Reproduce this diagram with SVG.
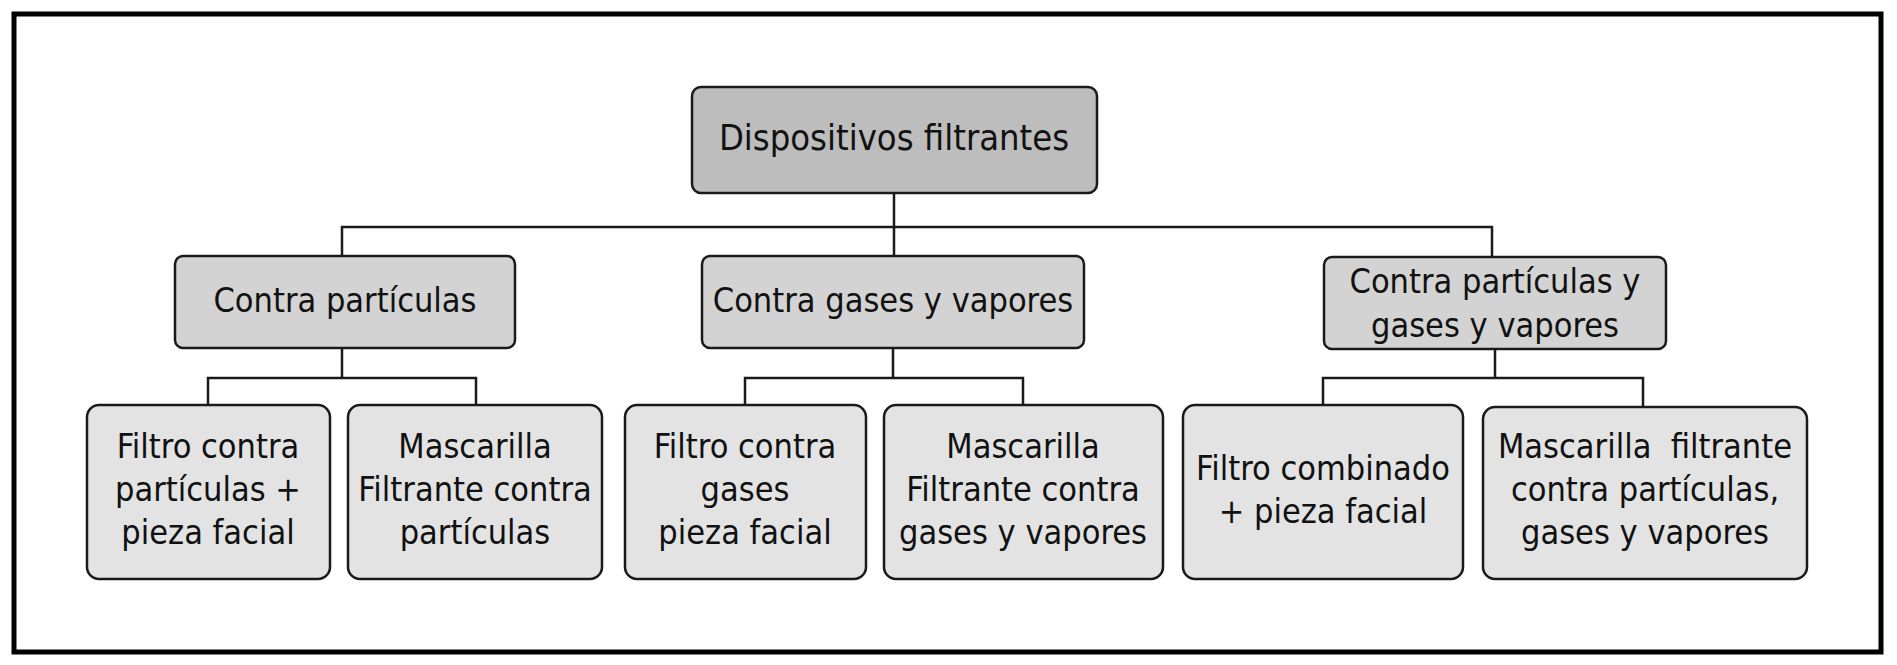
<svg xmlns="http://www.w3.org/2000/svg" width="1897" height="665" viewBox="0 0 1897 665">
<style>
.box{stroke:#1a1a1a;stroke-width:2.5}
.l0{fill:#bdbdbd}
.l1{fill:#d3d3d3}
.l2{fill:#e3e3e3}
.t{font-family:"DejaVu Sans Condensed","Liberation Sans",sans-serif;font-size:34px;fill:#111;text-anchor:middle}
.t0{font-size:36px}
.c{fill:none;stroke:#1a1a1a;stroke-width:2.5}
</style>
<rect x="0" y="0" width="1897" height="665" fill="#ffffff"/>
<rect id="frame" x="14" y="14" width="1867" height="638" fill="none" stroke="#000" stroke-width="5"/>
<g id="connectors">
<path class="c" d="M894 193 V255 M342 256 V227 H1492 V257"/>
<path class="c" d="M342 348 V378 M208 405 V378 H476 V405"/>
<path class="c" d="M893 348 V378 M745 405 V378 H1023 V405"/>
<path class="c" d="M1495 349 V378 M1323 405 V378 H1643 V407"/>
</g>
<g id="n-root">
<rect class="box l0" x="692" y="87" width="405" height="106" rx="9"/>
<text class="t t0" x="894" y="150">Dispositivos filtrantes</text>
</g>
<g id="n-particulas">
<rect class="box l1" x="175" y="256" width="340" height="92" rx="8"/>
<text class="t" x="345" y="312">Contra partículas</text>
</g>
<g id="n-gases">
<rect class="box l1" x="702" y="256" width="382" height="92" rx="8"/>
<text class="t" x="893" y="312">Contra gases y vapores</text>
</g>
<g id="n-combinado">
<rect class="box l1" x="1324" y="257" width="342" height="92" rx="8"/>
<text class="t" x="1495" y="293">Contra partículas y</text>
<text class="t" x="1495" y="337">gases y vapores</text>
</g>
<g id="n-b1">
<rect class="box l2" x="87" y="405" width="243" height="174" rx="12"/>
<text class="t" x="208" y="458">Filtro contra</text>
<text class="t" x="208" y="501">partículas +</text>
<text class="t" x="208" y="544">pieza facial</text>
</g>
<g id="n-b2">
<rect class="box l2" x="348" y="405" width="254" height="174" rx="12"/>
<text class="t" x="475" y="458">Mascarilla</text>
<text class="t" x="475" y="501">Filtrante contra</text>
<text class="t" x="475" y="544">partículas</text>
</g>
<g id="n-b3">
<rect class="box l2" x="625" y="405" width="241" height="174" rx="12"/>
<text class="t" x="745" y="458">Filtro contra</text>
<text class="t" x="745" y="501">gases</text>
<text class="t" x="745" y="544">pieza facial</text>
</g>
<g id="n-b4">
<rect class="box l2" x="884" y="405" width="279" height="174" rx="12"/>
<text class="t" x="1023" y="458">Mascarilla</text>
<text class="t" x="1023" y="501">Filtrante contra</text>
<text class="t" x="1023" y="544">gases y vapores</text>
</g>
<g id="n-b5">
<rect class="box l2" x="1183" y="405" width="280" height="174" rx="12"/>
<text class="t" x="1323" y="480">Filtro combinado</text>
<text class="t" x="1323" y="523">+ pieza facial</text>
</g>
<g id="n-b6">
<rect class="box l2" x="1483" y="407" width="324" height="172" rx="12"/>
<text class="t" x="1645" y="458" xml:space="preserve">Mascarilla  filtrante</text>
<text class="t" x="1645" y="501">contra partículas,</text>
<text class="t" x="1645" y="544">gases y vapores</text>
</g>
</svg>
